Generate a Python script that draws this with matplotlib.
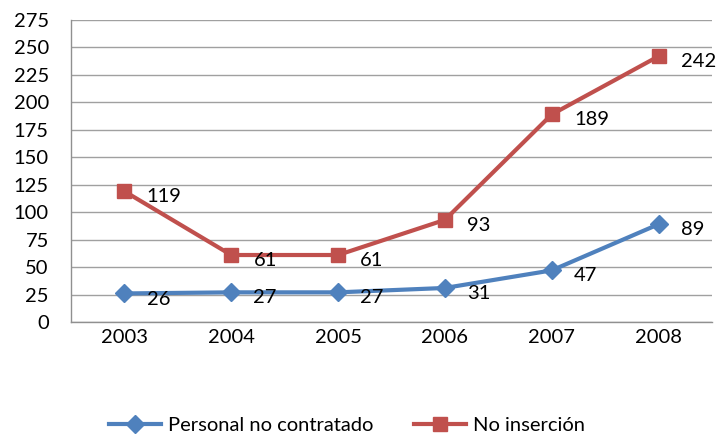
import matplotlib.pyplot as plt

years = ['2003', '2004', '2005', '2006', '2007', '2008']
personal = [26, 27, 27, 31, 47, 89]
no_insercion = [119, 61, 61, 93, 189, 242]

plt.rcParams['font.family'] = ['Lato', 'DejaVu Sans']
fs = 14.5

fig = plt.figure(figsize=(7.22, 4.37), dpi=100)
ax = fig.add_axes([71 / 722, 1 - 322 / 437, 641 / 722, 302 / 437])

x = list(range(len(years)))
ax.plot(x, personal, color='#4F81BD', lw=3, marker='D', ms=9, label='Personal no contratado')
ax.plot(x, no_insercion, color='#C0504D', lw=3, marker='s', ms=10, label='No inserción')

# data labels to the right of each point
for xi, v in zip(x, personal):
    ax.annotate(str(v), (xi, v), xytext=(16, -4), textcoords='offset points',
                ha='left', va='center', fontsize=fs)
for xi, v in zip(x, no_insercion):
    ax.annotate(str(v), (xi, v), xytext=(16, -4), textcoords='offset points',
                ha='left', va='center', fontsize=fs)

ax.set_xlim(-0.5, 5.5)
ax.set_ylim(0, 275)
ax.set_yticks(range(0, 276, 25))
ax.set_xticks(x)
ax.set_xticklabels(years)
ax.tick_params(axis='y', length=0, labelsize=fs, pad=16)
ax.tick_params(axis='x', length=0, labelsize=fs, pad=5)
ax.grid(axis='y', color='#A0A0A0', lw=1)
ax.set_axisbelow(True)
for s in ['top', 'right']:
    ax.spines[s].set_visible(False)
for s in ['left', 'bottom']:
    ax.spines[s].set_color('#909090')
    ax.spines[s].set_linewidth(1)

fig.legend(loc='center', bbox_to_anchor=(347 / 722, 1 - 425 / 437), ncol=2, frameon=False,
           fontsize=fs, handlelength=2.6, columnspacing=2.0, handletextpad=0.35)

fig.savefig('out.png', dpi=100)
